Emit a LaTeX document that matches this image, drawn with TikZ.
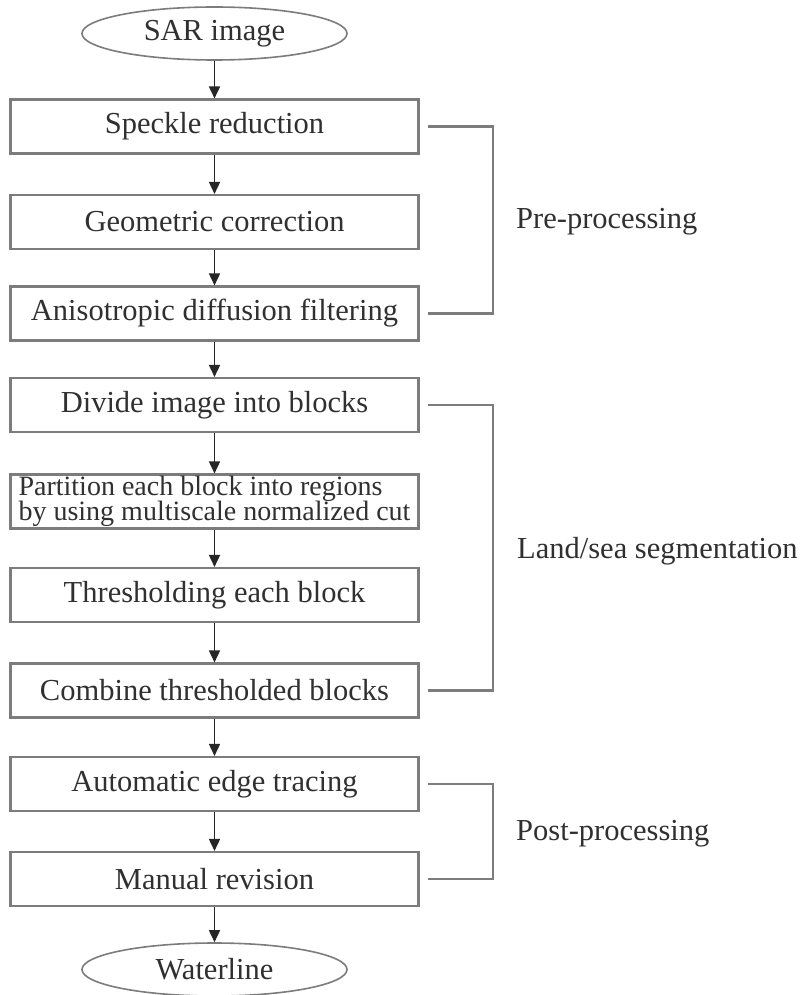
\documentclass[tikz,border=0pt]{standalone}
\usepackage{fontspec}
\setmainfont{Liberation Serif}
\usetikzlibrary{shapes.geometric,arrows.meta}
\definecolor{boxline}{HTML}{7C7C7C}
\definecolor{txt}{HTML}{303030}
\begin{document}
\begin{tikzpicture}[x=1pt,y=-1pt,
  stepbox/.style={draw=boxline,line width=2.1pt,minimum width=408pt,minimum height=54pt,
    inner sep=0pt,text=txt,font=\fontsize{30.5}{32}\selectfont},
  terminal/.style={draw=boxline,line width=1.6pt,ellipse,minimum width=265pt,minimum height=53pt,
    inner sep=0pt,text=txt,font=\fontsize{30.5}{32}\selectfont},
  flow/.style={draw=black!85,line width=1.6pt,-{Triangle[length=12pt,width=11pt]}},
  bracket/.style={draw=boxline,line width=2.1pt},
  phase/.style={anchor=base west,text=txt,inner sep=0pt,font=\fontsize{30.5}{32}\selectfont}]
\useasboundingbox (0,0) rectangle (801,995);
\fill[white] (0,0) rectangle (801,995);

% main flow
\node[terminal] (sar) at (214.5,33.5) {SAR image};
\node[stepbox] (speckle) at (214.5,126.5) {Speckle reduction};
\node[stepbox] (geo) at (214.5,222) {Geometric correction};
\node[stepbox] (aniso) at (214.5,313.5) {Anisotropic diffusion filtering};
\node[stepbox] (divide) at (214.5,405) {Divide image into blocks};
\node[stepbox,align=left,font=\fontsize{28}{25.5}\selectfont] (part) at (214.5,501.5)
  {Partition each block into regions\\by using multiscale normalized cut};
\node[stepbox] (thresh) at (214.5,595) {Thresholding each block};
\node[stepbox] (comb) at (214.5,690.5) {Combine thresholded blocks};
\node[stepbox] (edge) at (214.5,784) {Automatic edge tracing};
\node[stepbox] (manual) at (214.5,879) {Manual revision};
\node[terminal] (water) at (214.5,969.5) {Waterline};

\foreach \a/\b in {sar/speckle,speckle/geo,geo/aniso,aniso/divide,divide/part,
  part/thresh,thresh/comb,comb/edge,edge/manual,manual/water}
  \draw[flow] (\a.south) -- (\b.north);

% stage brackets
\draw[bracket] ([xshift=8pt]speckle.east) -- ++(65,0) |- ([xshift=8pt]aniso.east);
\draw[bracket] ([xshift=8pt]divide.east) -- ++(65,0) |- ([xshift=8pt]comb.east);
\draw[bracket] ([xshift=8pt]edge.east) -- ++(65,0) |- ([xshift=8pt]manual.east);

\node[phase] (pre) at (516,228) {Pre-processing};
\node[phase] (seg) at (517,558) {Land/sea segmentation};
\node[phase] (post) at (516,840) {Post-processing};
\end{tikzpicture}
\end{document}
